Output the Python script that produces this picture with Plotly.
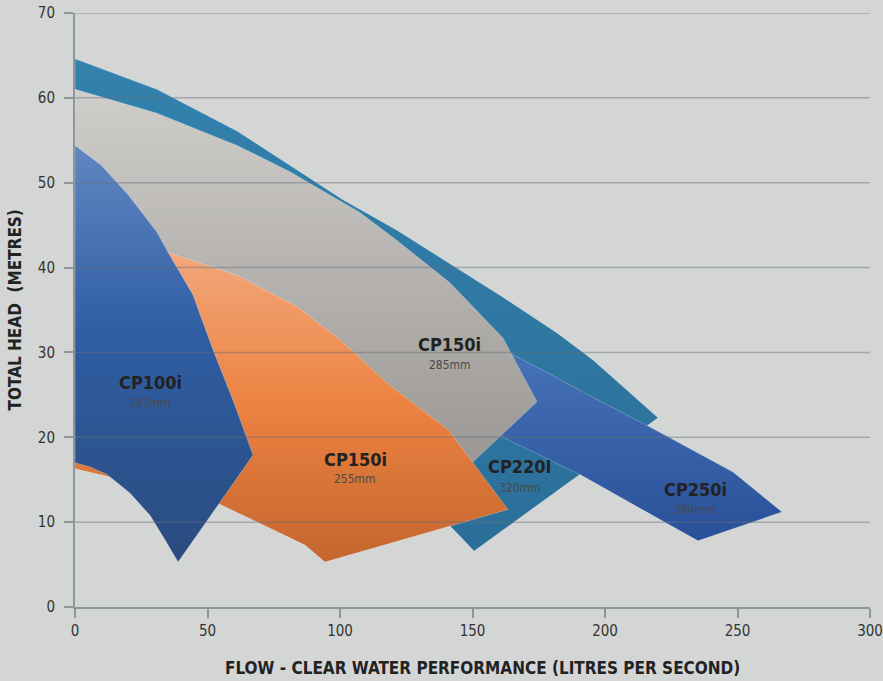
import plotly.graph_objects as go

# ---- data (flow L/s, head m) ----
cp220_x = [0, 30.9, 61.1, 81.1, 101.1, 121.5, 144.2, 161.5, 181.9, 195.5, 220.0, 150.6, 142.3, 134.0, 0]
cp220_y = [64.6, 61.0, 56.1, 52.1, 48.0, 44.4, 39.9, 36.5, 32.3, 29.1, 22.3, 6.6, 9.3, 12.0, 59.7]

cp250_x = [164.2, 176.6, 195.5, 217.0, 248.3, 266.8, 235.1, 190.6, 161.5, 156.6]
cp250_y = [29.9, 27.9, 24.7, 21.2, 15.9, 11.2, 7.8, 15.6, 20.0, 24.4]

cp150_285_x = [0, 30.9, 61.1, 81.1, 107.5, 121.5, 141.5, 161.5, 174.3, 150.2, 130.2, 66.0, 28.3, 0]
cp150_285_y = [61.0, 58.2, 54.4, 51.3, 46.5, 43.2, 38.2, 31.7, 24.2, 17.1, 19.7, 24.4, 36.2, 36.2]

cp150_255_x = [35.1, 61.1, 83.8, 100.0, 117.7, 140.8, 163.4, 94.3, 86.8, 77.4, 68.7, 54.7, 12.1, 0, 0]
cp150_255_y = [41.8, 39.1, 35.4, 31.5, 26.4, 20.9, 11.5, 5.3, 7.3, 8.7, 10.0, 12.1, 15.4, 16.3, 36.2]

cp100_x = [0, 9.8, 20.0, 30.9, 35.1, 44.5, 52.1, 59.6, 67.2, 38.9, 34.0, 28.3, 20.8, 12.1, 5.7, 0]
cp100_y = [54.4, 52.1, 48.6, 44.2, 41.8, 36.8, 30.3, 24.4, 17.9, 5.3, 7.9, 10.8, 13.4, 15.6, 16.5, 17.0]

labels = ["CP100i", "CP150i", "CP150i", "CP220I", "CP250i"]
sizes = ["243mm", "255mm", "285mm", "320mm", "380mm"]
label_x = [28.3, 105.7, 141.5, 168.0, 234.0]
label_y = [26.5, 17.4, 30.9, 16.5, 13.8]
size_y = [24.0, 15.1, 28.5, 14.0, 11.4]

x_ticks = [0, 50, 100, 150, 200, 250, 300]
y_ticks = [0, 10, 20, 30, 40, 50, 60, 70]

BG = "#d4d6d6"
AX = "#8e959b"
FONT = "DejaVu Sans Condensed, Liberation Sans Narrow, Arial Narrow, sans-serif"

fig = go.Figure()


def poly(xs, ys, scale, name):
    fig.add_trace(go.Scatter(
        x=xs + xs[:1], y=ys + ys[:1], mode="lines", fill="toself",
        fillgradient=dict(type="vertical", colorscale=scale),
        line=dict(width=0.6, color="rgba(255,255,255,0.4)"),
        hoverinfo="skip", name=name, showlegend=False))


poly(cp220_x, cp220_y, [[0, "#2b6f99"], [1, "#3282ad"]], "CP220I")
poly(cp250_x, cp250_y, [[0, "#28509a"], [1, "#4672b6"]], "CP250i")
poly(cp150_285_x, cp150_285_y, [[0, "#9a9795"], [1, "#d0cecb"]], "CP150i 285")
poly(cp150_255_x, cp150_255_y, [[0, "#c4652f"], [0.5, "#ec8240"], [1, "#f2a77c"]], "CP150i 255")
poly(cp100_x, cp100_y, [[0, "#2a4b7f"], [0.55, "#2f5ea4"], [1, "#6187c2"]], "CP100i")

for lx, ly, sy, t, s in zip(label_x, label_y, size_y, labels, sizes):
    fig.add_annotation(x=lx, y=ly, text="<b>" + t + "</b>", showarrow=False,
                       font=dict(family=FONT, size=18, color="#222222"))
    fig.add_annotation(x=lx, y=sy, text=s, showarrow=False,
                       font=dict(family=FONT, size=12, color="#4a4a4a"))

for yv in y_ticks[1:]:
    fig.add_shape(type="line", xref="paper", x0=0, x1=1, yref="y", y0=yv, y1=yv,
                  layer="above", line=dict(color="rgba(105,110,122,0.45)", width=1.5))

fig.add_annotation(xref="paper", yref="paper", x=0.513, y=-0.103, yanchor="middle",
                   text="<b>FLOW - CLEAR WATER PERFORMANCE (LITRES PER SECOND)</b>",
                   showarrow=False, font=dict(family=FONT, size=17, color="#222222"))
fig.add_annotation(xref="paper", yref="paper", x=-0.075, y=0.5, xanchor="center",
                   text="<b>TOTAL HEAD  (METRES)</b>", textangle=-90,
                   showarrow=False, font=dict(family=FONT, size=17, color="#222222"))

fig.update_layout(
    width=883, height=681,
    margin=dict(l=75, r=13, t=13, b=74),
    paper_bgcolor=BG, plot_bgcolor=BG,
    showlegend=False,
    xaxis=dict(range=[0, 300], tickvals=x_ticks, showgrid=False, zeroline=False,
               showline=True, linecolor=AX, linewidth=2, ticks="outside",
               ticklen=9, tickwidth=2, tickcolor=AX, fixedrange=True, automargin=False,
               tickfont=dict(family=FONT, size=15, color="#333333")),
    yaxis=dict(range=[0, 70], tickvals=y_ticks, showgrid=False, zeroline=False,
               showline=True, linecolor=AX, linewidth=2, ticks="outside",
               ticklen=9, tickwidth=2, tickcolor=AX, fixedrange=True, automargin=False,
               ticklabelstandoff=6,
               tickfont=dict(family=FONT, size=15, color="#333333")),
)

fig.write_html("out.html", config={"displayModeBar": False},
               post_script="document.body.style.margin='0';document.body.style.background='" + BG + "';")
